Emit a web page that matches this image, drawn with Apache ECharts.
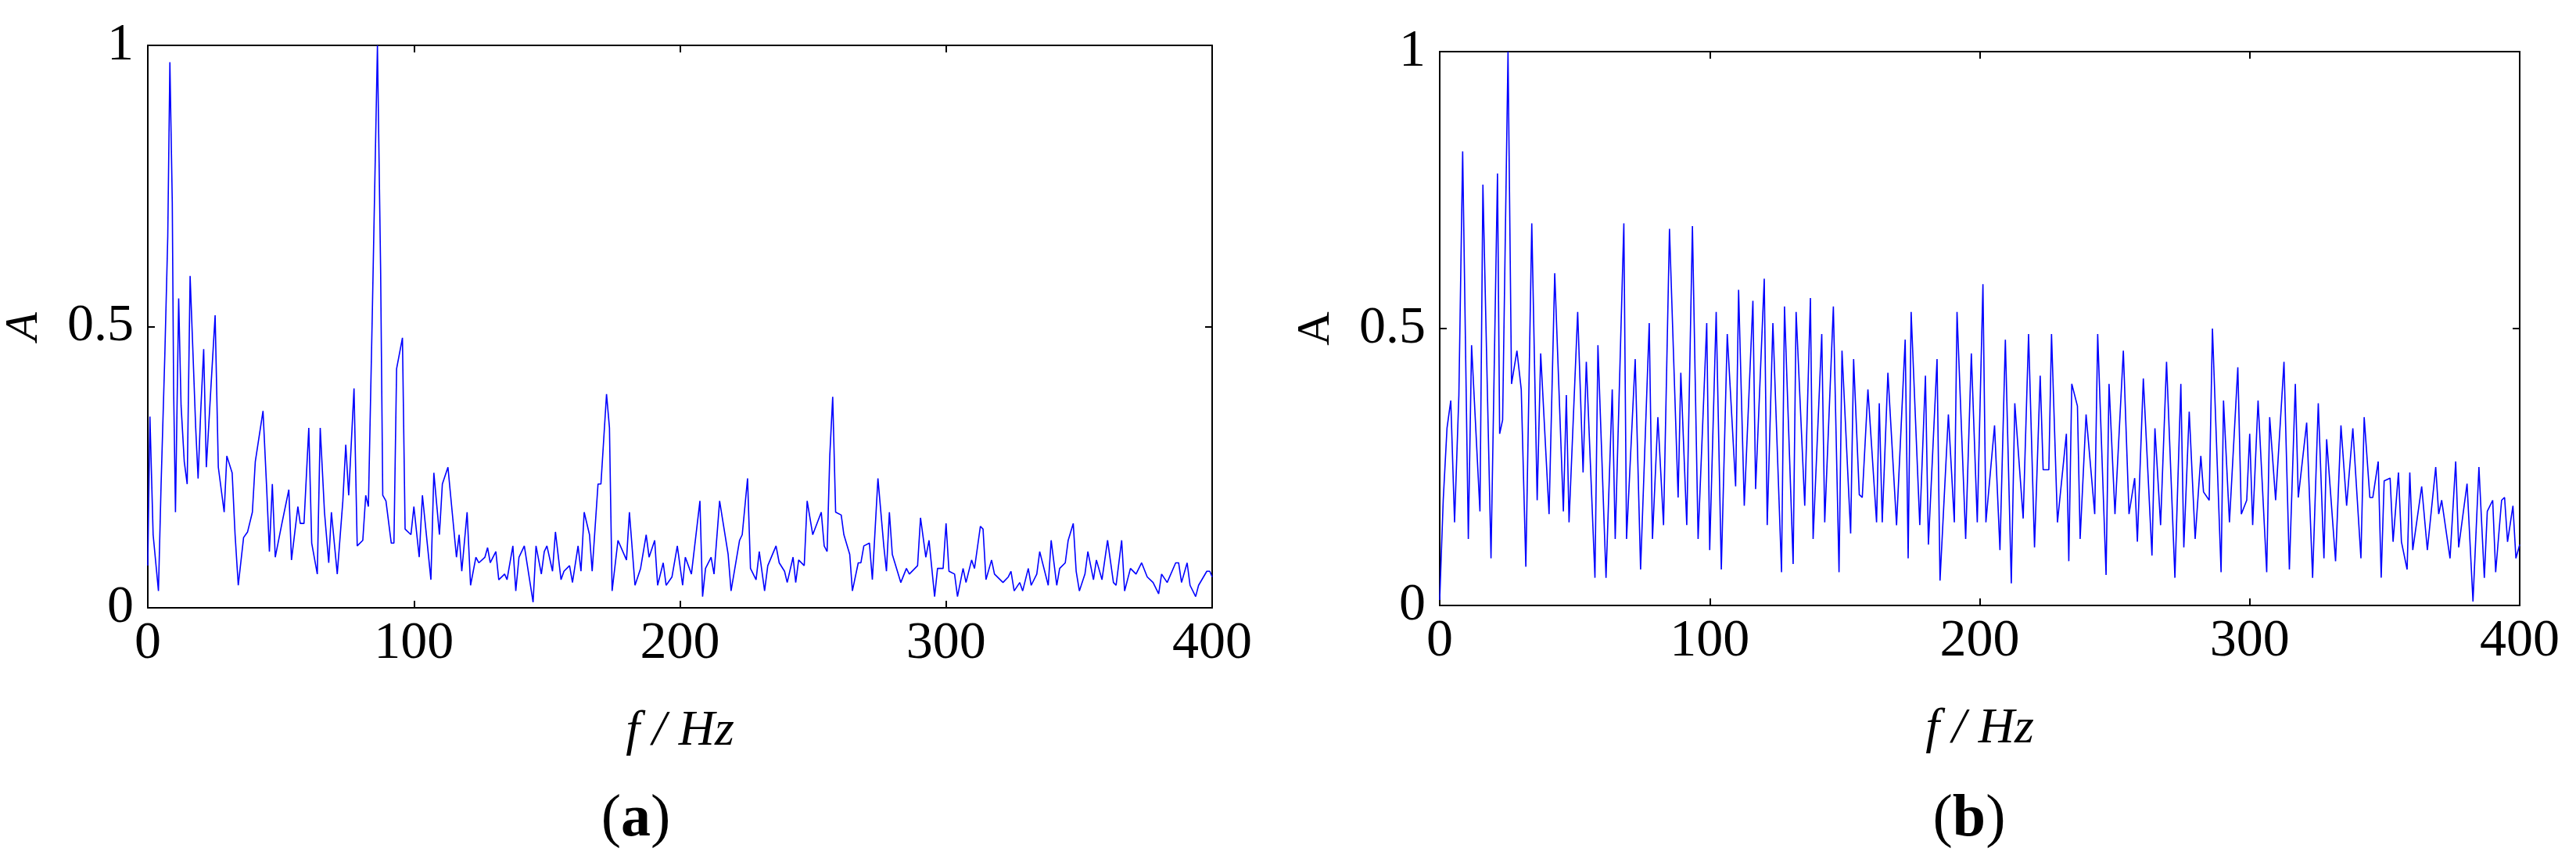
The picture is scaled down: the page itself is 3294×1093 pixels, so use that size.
<!DOCTYPE html>
<html><head><meta charset="utf-8">
<script src="https://cdn.jsdelivr.net/npm/echarts@6/dist/echarts.min.js"></script>
<style>html,body{margin:0;padding:0;background:#fff}#c{width:3294px;height:1093px}</style>
</head><body><div id="c"></div>
<script>
// (a) spectrum: frequency (Hz) and amplitude
var freqA = [0,0.8,2,4,5,6.4,7.5,8.3,9.2,9.7,10.4,11.6,12.5,13.7,14.8,15.9,17,18,18.9,19.9,21,22,23.7,25.3,26.5,28.7,29.7,31.7,32.8,34,36,37.5,39.3,40.4,43.3,44.7,45.7,46.8,47.9,50.4,53,54,56.4,57.3,58.7,60.5,61.6,63.7,64.8,66.4,68,69,71.2,73.3,74.4,75.5,77.5,78.7,80.8,81.9,82.9,84.4,86.3,87.5,88.3,89.5,91.5,92.5,93.5,95.7,96.7,98.9,100,102,103.2,106.4,107.5,109.6,110.7,112.8,116,117,118,120,121.3,123.3,124.4,126.7,127.7,128.7,130.8,131.9,134.1,135,137.2,138.3,139.5,141.5,144.8,145.9,147.9,149,150,152.1,153.2,155.3,156.4,158.5,159.6,161.7,162.8,164,166,167,169.2,170.3,172.4,173.5,174.5,176.7,179.9,181,183.1,185.2,187.3,188.4,190.5,191.6,193.7,194.8,197,199,201,202,204.3,207.5,208.5,209.6,211.7,212.8,214.9,218.1,219.2,222.4,223.4,225.4,226.5,228.6,229.8,231.8,233,236.1,237.3,239.3,240.3,242.5,243.5,244.6,246.7,247.8,249.9,253.1,254.2,255.3,256.3,257.4,258.5,260.6,261.6,263.8,264.8,267,268,269.1,271.2,272.3,274.4,276.6,277.6,278.7,279.8,283,285.1,286.2,289.3,290.4,292.4,293.6,295.7,296.8,298.9,300,301.1,303.2,304.3,306.4,307.5,309.6,310.7,312.9,313.9,315,317.1,318.2,321.4,323.4,324.4,325.6,327.7,328.8,330.9,332,334.1,335.2,338.4,339.5,341.6,342.7,344.8,345.9,347.8,348.9,350.1,352.2,353.3,355.4,356.5,358.6,360.7,362.9,363.9,366,367.1,369.3,371.4,373.5,375.6,377.8,379.9,381,383.1,386.3,387.4,388.5,390.6,391.7,393.8,394.9,398,399.1,400];
var ampA = [0.075,0.34,0.13,0.03,0.22,0.45,0.66,0.97,0.72,0.39,0.17,0.55,0.36,0.26,0.22,0.59,0.45,0.32,0.23,0.35,0.46,0.25,0.39,0.52,0.25,0.17,0.27,0.24,0.13,0.04,0.125,0.135,0.17,0.26,0.35,0.21,0.10,0.22,0.09,0.15,0.21,0.085,0.18,0.15,0.15,0.32,0.115,0.06,0.32,0.17,0.08,0.17,0.06,0.19,0.29,0.20,0.39,0.11,0.12,0.20,0.18,0.53,1.0,0.60,0.20,0.19,0.115,0.115,0.425,0.48,0.14,0.13,0.18,0.09,0.20,0.05,0.24,0.13,0.22,0.25,0.09,0.13,0.065,0.17,0.04,0.09,0.08,0.09,0.107,0.08,0.10,0.05,0.06,0.05,0.11,0.03,0.09,0.11,0.01,0.11,0.06,0.10,0.11,0.065,0.135,0.05,0.065,0.075,0.045,0.11,0.065,0.17,0.13,0.065,0.22,0.22,0.38,0.32,0.03,0.12,0.085,0.17,0.04,0.07,0.13,0.09,0.12,0.04,0.08,0.04,0.055,0.11,0.04,0.09,0.06,0.19,0.02,0.07,0.09,0.06,0.19,0.095,0.03,0.12,0.13,0.23,0.07,0.05,0.10,0.03,0.075,0.11,0.08,0.065,0.045,0.09,0.045,0.085,0.075,0.19,0.13,0.17,0.11,0.10,0.27,0.375,0.17,0.165,0.13,0.095,0.03,0.08,0.08,0.11,0.115,0.05,0.23,0.11,0.065,0.17,0.095,0.045,0.07,0.06,0.075,0.16,0.09,0.12,0.02,0.07,0.07,0.15,0.065,0.06,0.02,0.07,0.045,0.085,0.07,0.145,0.14,0.05,0.085,0.06,0.045,0.055,0.065,0.03,0.045,0.03,0.07,0.04,0.06,0.10,0.04,0.12,0.04,0.07,0.08,0.12,0.15,0.065,0.03,0.06,0.10,0.05,0.085,0.05,0.12,0.045,0.04,0.12,0.03,0.07,0.06,0.08,0.055,0.045,0.025,0.06,0.045,0.08,0.08,0.045,0.08,0.04,0.02,0.04,0.065,0.065,0.055];
// (b) spectrum
var freqB = [0,1.3,2.7,4.1,5.5,7.1,8.5,10.6,11.8,14.9,16,19,21.4,22.2,23.3,25.3,26.6,28.6,30.2,31.9,34.1,36.1,37.4,40.5,42.6,45.8,46.9,47.9,51.1,53.1,54.3,57.5,58.6,61.6,63.9,65,68.2,69.2,72.4,74.4,77.6,78.8,80.8,82.9,85.1,88.3,89.3,91.5,93.6,95.7,98.9,100,102.4,104.3,106.5,109.6,110.7,112.8,116,117,120.2,121.3,123.4,126.6,127.7,130.9,132,135.2,137.3,138.3,141.5,142.6,145.8,147.9,149,152.2,153.3,155.4,156.5,158.6,161.8,162.8,163.9,166,169.2,172.4,173.5,174.6,177.8,179.9,181,184.2,185.3,188.4,190.6,191.6,194.8,196.9,199.1,201.2,202.3,205.5,207.5,209.5,211.7,213,216.1,218.1,220.3,222.4,223.5,225.6,226.6,228.8,232.1,233,234.1,236.2,237.2,239.4,242.6,243.7,246.8,247.9,250.1,253.2,255.3,257.4,258.4,260.6,263.8,264.9,267,269.2,272.3,274.5,275.6,277.6,279.8,281.9,282.9,285,286.2,289.4,290.3,292.5,295.6,296.9,298.9,300,301.1,303.1,306.3,307.4,309.6,312.7,314.7,316.9,318,321.1,323.3,325.4,327.5,328.5,331.8,333.8,335.9,338.2,341.2,342.4,344.5,345.6,347.6,348.7,349.8,352,353.1,355.1,356.2,358.3,359.3,360.4,363.7,365.8,368.9,370,371.1,374.2,376.3,377.4,380.5,382.7,384.9,386.9,388,390,391.1,393.3,394.4,395.5,397.5,398.6,400];
var ampB = [0.01,0.19,0.32,0.37,0.15,0.38,0.82,0.12,0.47,0.17,0.76,0.085,0.78,0.31,0.335,1.0,0.40,0.46,0.39,0.07,0.69,0.19,0.455,0.165,0.60,0.17,0.38,0.15,0.53,0.24,0.44,0.05,0.47,0.05,0.39,0.12,0.69,0.12,0.445,0.065,0.51,0.12,0.34,0.145,0.68,0.195,0.42,0.145,0.685,0.12,0.51,0.10,0.53,0.065,0.49,0.215,0.57,0.18,0.55,0.21,0.59,0.145,0.51,0.06,0.54,0.075,0.53,0.18,0.555,0.12,0.49,0.15,0.54,0.06,0.46,0.13,0.445,0.20,0.195,0.39,0.15,0.365,0.15,0.42,0.145,0.48,0.085,0.53,0.145,0.415,0.11,0.445,0.045,0.345,0.15,0.53,0.12,0.455,0.15,0.58,0.15,0.325,0.10,0.48,0.04,0.365,0.157,0.49,0.105,0.415,0.245,0.245,0.49,0.15,0.31,0.08,0.40,0.36,0.12,0.345,0.165,0.49,0.055,0.40,0.165,0.46,0.165,0.23,0.115,0.41,0.09,0.32,0.145,0.44,0.05,0.40,0.105,0.35,0.12,0.27,0.205,0.19,0.50,0.06,0.37,0.15,0.43,0.165,0.19,0.31,0.145,0.37,0.06,0.34,0.19,0.44,0.065,0.40,0.195,0.33,0.05,0.365,0.085,0.30,0.08,0.325,0.18,0.32,0.085,0.34,0.195,0.195,0.26,0.05,0.225,0.23,0.115,0.24,0.115,0.065,0.24,0.10,0.215,0.10,0.25,0.165,0.19,0.085,0.26,0.105,0.22,0.007,0.25,0.05,0.17,0.19,0.06,0.19,0.195,0.115,0.18,0.085,0.11];
var xTicks = [0,100,200,300,400];
var yTicks = [0,0.5,1];

function zip(a,b){return a.map(function(v,i){return [v,b[i]];});}
var serif = '"Liberation Serif","DejaVu Serif",serif';
var grids = [
  {left:172, right:1744, top:58, bottom:316},
  {left:1841, right:72, top:66, bottom:319}
];
function xAx(g, pos, main){
  return {type:'value', gridIndex:g, position:pos, min:0, max:400, interval:100,
    axisLine:{show:true, onZero:false, lineStyle:{color:'#000', width:2}},
    axisTick:{show:true, inside:true, length:9, lineStyle:{color:'#000', width:2}},
    splitLine:{show:false},
    axisLabel:{show:main, color:'#000', fontFamily:serif, fontSize:68, margin:12,
      formatter:function(v){return xTicks.indexOf(v)>=0?String(v):'';}},
    name: main?'f / Hz':'', nameLocation:'middle', nameGap:126,
    nameTextStyle:{color:'#000', fontFamily:serif, fontSize:64, fontStyle:'italic'}};
}
function yAx(g, pos, main, ital){
  return {type:'value', gridIndex:g, position:pos, min:0, max:1, interval:0.5,
    axisLine:{show:true, onZero:false, lineStyle:{color:'#000', width:2}},
    axisTick:{show:true, inside:true, length:9, lineStyle:{color:'#000', width:2}},
    splitLine:{show:false},
    axisLabel:{show:main, color:'#000', fontFamily:serif, fontSize:68, margin:18,
      formatter:function(v){return yTicks.indexOf(v)>=0?String(v):'';}},
    name: main?'A':'', nameLocation:'middle', nameGap:128, nameRotate:90,
    nameTextStyle:{color:'#000', fontFamily:serif, fontSize:60, fontStyle: ital?'italic':'normal'}};
}
var chart = echarts.init(document.getElementById('c'));
chart.setOption({
  backgroundColor:'#fff', animation:false,
  grid:grids,
  title:[
    {text:'({b|a})', left:808, top:1043, textAlign:'center', textVerticalAlign:'middle',
      textStyle:{fontFamily:serif, fontSize:76, fontWeight:'normal', color:'#000', rich:{b:{fontFamily:serif, fontSize:76, fontWeight:'bold', color:'#000'}}}},
    {text:'({b|b})', left:2513, top:1043, textAlign:'center', textVerticalAlign:'middle',
      textStyle:{fontFamily:serif, fontSize:76, fontWeight:'normal', color:'#000', rich:{b:{fontFamily:serif, fontSize:76, fontWeight:'bold', color:'#000'}}}}
  ],
  xAxis:[xAx(0,'bottom',true), xAx(0,'top',false), xAx(1,'bottom',true), xAx(1,'top',false)],
  yAxis:[yAx(0,'left',true,true), yAx(0,'right',false), yAx(1,'left',true,false), yAx(1,'right',false)],
  series:[
    {type:'line', xAxisIndex:0, yAxisIndex:0, data:zip(freqA,ampA), showSymbol:false, lineStyle:{color:'#0000ff', width:1.6}},
    {type:'line', xAxisIndex:2, yAxisIndex:2, data:zip(freqB,ampB), showSymbol:false, lineStyle:{color:'#0000ff', width:1.6}}
  ]
});
</script></body></html>
